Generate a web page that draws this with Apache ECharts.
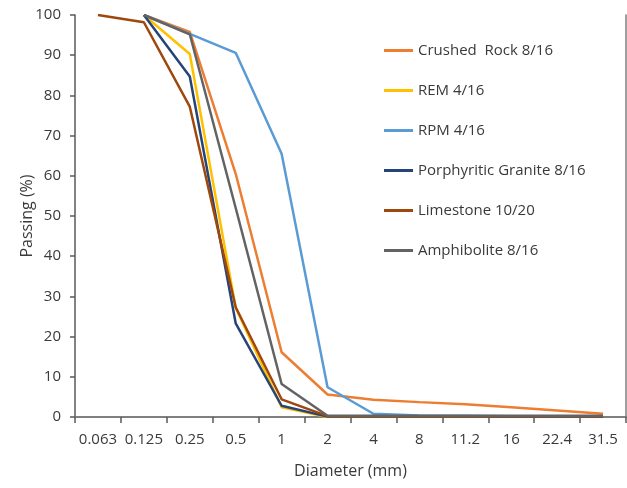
<!DOCTYPE html>
<html>
<head>
<meta charset="utf-8">
<script src="https://cdn.jsdelivr.net/npm/echarts@6/dist/echarts.min.js"></script>
<style>html,body{margin:0;padding:0;background:#fff;}#c{width:627px;height:488px;}</style>
</head>
<body>
<div id="c"></div>
<script>
var categories = ['0.063','0.125','0.25','0.5','1','2','4','8','11.2','16','22.4','31.5'];
var crushedRock = [null, 100, 95.8, 60.5, 16.1, 5.6, 4.3, 3.7, 3.2, 2.4, 1.6, 0.8];
var rem = [null, 100, 90.3, 27.2, 2.4, 0, 0, 0, 0, 0, 0, 0];
var rpm = [null, 100, 95.3, 90.6, 65.5, 7.4, 0.8, 0.4, 0.3, 0.2, 0.1, 0.1];
var granite = [null, 100, 84.7, 23.3, 2.8, 0.1, 0.1, 0.1, 0.1, 0.1, 0.1, 0.1];
var limestone = [100, 98.2, 77.2, 27.3, 4.4, 0.2, 0.2, 0.2, 0.2, 0.2, 0.2, 0.2];
var amphibolite = [null, 100, 95.2, 52, 8.2, 0.3, 0.3, 0.3, 0.3, 0.3, 0.3, 0.3];
var yTicks = [0, 10, 20, 30, 40, 50, 60, 70, 80, 90, 100];

var seriesDefs = [
  ['Crushed  Rock 8/16', crushedRock, '#ED7D31'],
  ['REM 4/16', rem, '#FFC000'],
  ['RPM 4/16', rpm, '#5B9BD5'],
  ['Porphyritic Granite 8/16', granite, '#264478'],
  ['Limestone 10/20', limestone, '#9E480E'],
  ['Amphibolite 8/16', amphibolite, '#636363']
];

var font = 'Open Sans';
var txt = '#3a3a3a';
var chart = echarts.init(document.getElementById('c'), null, {renderer: 'canvas'});
chart.setOption({
  animation: false,
  backgroundColor: '#fff',
  textStyle: {fontFamily: font},
  grid: {left: 75, right: 1, top: 15, bottom: 71, containLabel: false},
  graphic: [{
    type: 'text',
    x: 27, y: 216,
    rotation: Math.PI / 2,
    style: {text: 'Passing (%)', font: '16px "Open Sans"', fill: txt, textAlign: 'center', textVerticalAlign: 'middle'}
  }],
  legend: {
    orient: 'vertical',
    left: 379, top: 38,
    itemWidth: 29, itemHeight: 3, itemGap: 25,
    icon: 'rect',
    textStyle: {fontFamily: font, fontSize: 15, color: txt},
    data: seriesDefs.map(function(s){return s[0];})
  },
  xAxis: [{
    type: 'category',
    data: categories,
    boundaryGap: true,
    name: 'Diameter (mm)',
    nameLocation: 'middle',
    nameGap: 46,
    nameTextStyle: {fontFamily: font, fontSize: 16, color: txt},
    axisLine: {lineStyle: {color: '#595959', width: 1.5}},
    axisTick: {show: true, length: 6, alignWithLabel: false, lineStyle: {color: '#595959', width: 1.5}},
    axisLabel: {fontFamily: font, fontSize: 15, color: txt, margin: 15, interval: 0},
    splitLine: {show: false}
  }, {
    type: 'category', position: 'top', data: categories,
    axisLine: {show: true, lineStyle: {color: '#7f7f7f', width: 1.5}},
    axisTick: {show: false}, axisLabel: {show: false}
  }],
  yAxis: [{
    type: 'value',
    min: yTicks[0], max: yTicks[yTicks.length-1], interval: 10,
    axisLine: {show: true, lineStyle: {color: '#595959', width: 1.5}},
    axisTick: {show: true, length: 5, lineStyle: {color: '#595959', width: 1.5}},
    axisLabel: {fontFamily: font, fontSize: 15, color: txt, margin: 14},
    splitLine: {show: false}
  }, {
    type: 'value', position: 'right', min: 0, max: 100, interval: 10,
    axisLine: {show: true, lineStyle: {color: '#7f7f7f', width: 1.5}},
    axisTick: {show: false}, axisLabel: {show: false}, splitLine: {show: false}
  }],
  series: seriesDefs.map(function(s){
    return {
      name: s[0], type: 'line', data: s[1],
      showSymbol: false, symbol: 'none',
      connectNulls: false,
      lineStyle: {color: s[2], width: 2.5},
      itemStyle: {color: s[2]}
    };
  })
});
</script>
</body>
</html>
